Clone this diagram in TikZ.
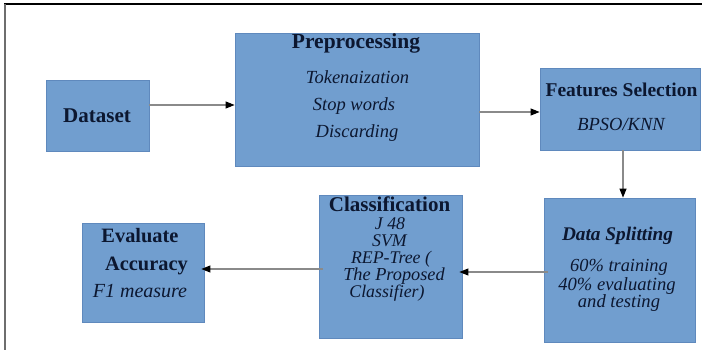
\documentclass[tikz,border=0pt]{standalone}
\usepackage{fontspec}
\setmainfont{Liberation Serif}
\usetikzlibrary{arrows.meta}

\definecolor{boxfill}{HTML}{719ECF}
\definecolor{boxedge}{HTML}{5F89BD}
\definecolor{ink}{HTML}{0C1730}
\definecolor{linegray}{HTML}{8A8A8A}

\begin{document}
\begin{tikzpicture}[x=1pt,y=-1pt,
  stage/.style={draw=boxedge, fill=boxfill, line width=0.8pt, inner sep=0pt, rectangle},
  head/.style={font=\fontsize{21}{21}\selectfont\bfseries, text=ink, inner sep=0pt, anchor=base},
  item/.style={font=\fontsize{18.5}{18.5}\selectfont\itshape, text=ink, inner sep=0pt, anchor=base},
  tight/.style={font=\fontsize{17.8}{17.8}\selectfont\itshape},
  flow/.style={draw=linegray, line width=1.1pt, -{Triangle[length=9pt,width=7pt,color=black]}}]

  % page area
  \useasboundingbox (0,0) rectangle (703,353);
  \draw[black, line width=1.5pt] (4,4) -- (702,4);
  \draw[linegray!80!black, line width=1.8pt] (5,4) -- (5,350);

  % stages
  \node[stage, minimum width=103pt, minimum height=71pt]  (ds)  at (97.5,115.5) {};
  \node[stage, minimum width=244pt, minimum height=133pt] (pre) at (357,99.5)   {};
  \node[stage, minimum width=160pt, minimum height=82pt]  (fs)  at (620,109)    {};
  \node[stage, minimum width=151pt, minimum height=144pt] (spl) at (619.5,270)  {};
  \node[stage, minimum width=143pt, minimum height=143pt] (cls) at (390.5,266.5){};
  \node[stage, minimum width=122pt, minimum height=99pt]  (ev)  at (143,272.5)  {};

  % Dataset
  \node[head] (dsT) at (97,122) {Dataset};

  % Preprocessing
  \node[head, font=\fontsize{21.5}{21.5}\selectfont\bfseries] (preT) at (356,48.5) {Preprocessing};
  \node[item] (preA) at (357.5,83)  {Tokenaization};
  \node[item] (preB) at (354,110)   {Stop words};
  \node[item] (preC) at (357,137)   {Discarding};

  % Features selection
  \node[head, font=\fontsize{19.5}{19.5}\selectfont\bfseries] (fsT) at (621.5,96) {Features Selection};
  \node[item] (fsA) at (621,130) {BPSO/KNN};

  % Data splitting
  \node[head, font=\fontsize{19.3}{19.3}\selectfont\bfseries\itshape] (splT) at (617.5,240) {Data Splitting};
  \node[item, font=\fontsize{18.4}{18.4}\selectfont\itshape] (splA) at (619,271.5) {60\% training};
  \node[item, font=\fontsize{18.6}{18.6}\selectfont\itshape] (splB) at (617,290) {40\% evaluating};
  \node[item, font=\fontsize{18.6}{18.6}\selectfont\itshape] (splC) at (619,307.5) {and testing};

  % Classification
  \node[head, font=\fontsize{21}{21}\selectfont\bfseries] (clsT) at (389.5,211.5) {Classification};
  \node[item, tight] (clsA) at (390,229.5)  {J 48};
  \node[item, tight] (clsB) at (389.5,246){SVM};
  \node[item, tight] (clsC) at (391,263)  {REP-Tree (};
  \node[item, font=\fontsize{18.3}{18.3}\selectfont\itshape] (clsD) at (394,280)  {The Proposed};
  \node[item, tight] (clsE) at (387,297.5)  {Classifier)};

  % Evaluation
  \node[head, font=\fontsize{20.4}{20.4}\selectfont\bfseries] (evT) at (140,242)   {Evaluate};
  \node[head, font=\fontsize{20.4}{20.4}\selectfont\bfseries] (evA) at (146.5,270) {Accuracy};
  \node[item, font=\fontsize{20}{20}\selectfont\itshape] (evB) at (140,297) {F1 measure};

  % connector heights
  \coordinate (r1) at (0,105);
  \coordinate (r2) at (0,112);
  \coordinate (c3) at (623,0);
  \coordinate (r4) at (0,272);
  \coordinate (r5) at (0,269);

  % connectors
  \draw[flow] (ds.east |- r1) -- (pre.west |- r1);
  \draw[flow] (pre.east |- r2) -- (fs.west |- r2);
  \draw[flow] (fs.south -| c3) -- (spl.north -| c3);
  \draw[flow, shorten <=-4pt, shorten >=-3pt] (spl.west |- r4) -- (cls.east |- r4);
  \draw[flow, shorten <=-4pt, shorten >=-3pt] (cls.west |- r5) -- (ev.east |- r5);
\end{tikzpicture}
\end{document}
